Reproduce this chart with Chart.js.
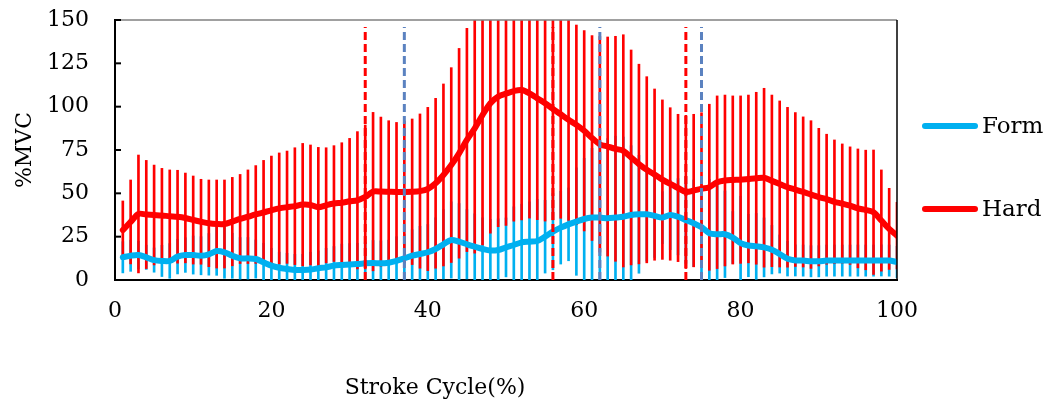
<!DOCTYPE html>
<html>
<head>
<meta charset="utf-8">
<script src="https://cdn.jsdelivr.net/npm/chart.js@4.4.1/dist/chart.umd.min.js"></script>
<style>
  html, body { margin: 0; padding: 0; background: #ffffff; }
  #wrap { width: 1053px; height: 407px; position: relative; }
</style>
</head>
<body>
<div id="wrap"><canvas id="c" width="1053" height="407"></canvas></div>
<script>
// ---------------- data ----------------
const strokeCycle = Array.from({length: 100}, (_, i) => i + 1); // 1..100 %

const seriesNames = ['Form', 'Hard'];
const xTitle = 'Stroke Cycle(%)';
const yTitle = '%MVC';
const yTicks = [0, 25, 50, 75, 100, 125, 150];
const xTicks = [0, 20, 40, 60, 80, 100];

const hardMean = [
  28.8, 33.5, 38.1, 37.8, 37.5, 37.2, 36.8, 36.5, 35.8, 34.6,
  33.6, 32.7, 32.3, 32.3, 33.7, 35.2, 36.5, 37.8, 39.0, 40.2,
  41.3, 42.0, 42.6, 43.5, 43.3, 41.9, 43.1, 44.1, 44.6, 45.4,
  46.0, 47.9, 51.0, 51.0, 50.9, 50.8, 50.8, 50.9, 51.3, 52.5,
  55.8, 60.6, 66.3, 73.1, 80.8, 87.5, 95.2, 102.0, 105.8, 107.5,
  109.0, 109.6, 107.7, 104.8, 102.0, 98.7, 95.6, 92.4, 89.5, 86.1,
  81.9, 78.3, 77.0, 75.7, 74.5, 70.7, 66.9, 63.6, 60.8, 57.9,
  55.4, 53.1, 50.8, 51.6, 52.7, 53.5, 56.4, 57.4, 57.7, 57.9,
  58.3, 58.7, 59.0, 57.2, 55.4, 53.5, 52.2, 50.8, 49.3, 47.8,
  46.6, 45.1, 44.1, 42.9, 41.3, 40.4, 39.1, 34.3, 29.5, 25.6
];
const hardSD = [
  16.8, 24.2, 34.0, 31.2, 28.8, 27.2, 26.7, 26.8, 25.9, 25.4,
  24.5, 25.0, 25.4, 25.4, 25.5, 25.7, 27.0, 28.2, 30.0, 31.3,
  32.0, 32.4, 33.7, 35.3, 34.6, 34.6, 33.2, 33.4, 34.6, 36.3,
  39.6, 41.5, 45.7, 43.0, 41.0, 40.1, 40.9, 42.0, 44.5, 47.1,
  49.0, 52.5, 56.2, 60.5, 64.4, 72.0, 75.0, 75.0, 75.0, 76.0,
  75.0, 75.0, 72.0, 70.0, 68.0, 64.0, 60.0, 58.0, 57.6, 57.8,
  59.1, 62.2, 63.2, 64.9, 67.0, 62.0, 57.6, 53.7, 49.4, 46.0,
  44.0, 42.5, 44.2, 44.0, 43.8, 47.9, 49.8, 49.3, 48.5, 48.3,
  48.4, 49.6, 51.6, 49.5, 47.9, 46.1, 44.4, 43.3, 42.6, 39.7,
  37.5, 35.7, 34.4, 33.9, 34.3, 34.5, 35.9, 29.2, 23.4, 19.2
];
const formMean = [
  13.1, 14.0, 14.4, 13.1, 11.5, 11.0, 11.0, 13.5, 14.4, 14.4,
  14.0, 14.8, 16.7, 16.0, 14.0, 12.5, 12.5, 12.1, 10.2, 8.3,
  7.1, 6.4, 5.8, 5.8, 6.0, 6.8, 7.3, 8.3, 8.7, 9.0,
  9.2, 9.6, 9.8, 9.6, 10.0, 11.0, 12.5, 14.0, 15.0, 16.0,
  17.9, 20.6, 23.1, 22.1, 20.6, 19.2, 17.9, 17.0, 17.3, 18.8,
  20.2, 21.7, 22.1, 22.5, 25.0, 27.9, 30.2, 32.1, 33.7, 35.2,
  36.0, 36.0, 35.6, 36.0, 36.5, 37.5, 37.9, 37.9, 37.0, 36.0,
  37.5, 36.5, 34.6, 32.7, 30.5, 27.0, 26.4, 26.4, 24.5, 21.3,
  19.9, 19.4, 18.8, 17.5, 15.0, 12.3, 11.3, 11.2, 10.8, 10.8,
  11.2, 11.2, 11.2, 11.2, 11.2, 11.2, 11.2, 11.3, 11.2, 10.4
];
const formSD = [
  9, 9, 8, 7, 7, 9, 10, 10, 10, 11,
  11, 12, 14, 15, 13, 12, 12, 11, 11, 10,
  9, 9, 9, 9, 10, 10, 11, 11, 12, 12,
  12, 12, 13, 13, 13, 14, 14, 15, 16, 16,
  18, 20, 22, 22, 20, 19, 18, 18, 18, 17,
  22, 22, 23, 24, 21, 22, 21, 21, 31, 35,
  40, 42, 46, 47, 46, 40, 34, 27, 24, 15,
  20, 22, 25, 25, 28, 31, 30, 25, 15, 27,
  18, 19, 17, 14, 11, 10, 9, 9, 9, 9,
  9, 9, 9, 9, 9, 9, 9, 9, 9, 9
];

// phase markers (vertical dashed lines)
const hardPhaseX = [32, 56, 73];
const formPhaseX = [37, 62, 75];
const markerTop = 146;

// ---------------- styling ----------------
const FORM_COLOR = '#00B0F0';
const HARD_COLOR = '#FF0000';
const FORM_MARK_COLOR = '#5B82C0';
const FONT = '"DejaVu Serif", "Liberation Serif", serif';

const lineXY = (xs, ys) => xs.map((x, i) => ({x: x, y: ys[i]}));
const barXY = (xs, m, s) => xs.map((x, i) => ({x: x, y: [m[i] - s[i], m[i] + s[i]]}));

const datasets = [];
hardPhaseX.forEach(x => datasets.push({
  type: 'line', label: 'hardPhase', data: [{x: x, y: 0}, {x: x, y: markerTop}],
  borderColor: HARD_COLOR, borderWidth: 3, borderDash: [8, 4], pointRadius: 0,
  order: 0, clip: false
}));
formPhaseX.forEach(x => datasets.push({
  type: 'line', label: 'formPhase', data: [{x: x, y: 0}, {x: x, y: markerTop}],
  borderColor: FORM_MARK_COLOR, borderWidth: 3, borderDash: [8, 4], pointRadius: 0,
  order: 0, clip: false
}));
datasets.push({
  type: 'line', label: seriesNames[1], data: lineXY(strokeCycle, hardMean),
  borderColor: HARD_COLOR, borderWidth: 6, pointRadius: 0, tension: 0.3,
  borderCapStyle: 'round', borderJoinStyle: 'round', order: 1
});
datasets.push({
  type: 'line', label: seriesNames[0], data: lineXY(strokeCycle, formMean),
  borderColor: FORM_COLOR, borderWidth: 6, pointRadius: 0, tension: 0.3,
  borderCapStyle: 'round', borderJoinStyle: 'round', order: 2
});
datasets.push({
  type: 'bar', label: 'Hard SD', data: barXY(strokeCycle, hardMean, hardSD),
  backgroundColor: HARD_COLOR, borderWidth: 0, barThickness: 2,
  grouped: false, order: 3
});
datasets.push({
  type: 'bar', label: 'Form SD', data: barXY(strokeCycle, formMean, formSD),
  backgroundColor: FORM_COLOR, borderWidth: 0, barThickness: 2,
  grouped: false, order: 4
});

// frame, inward y ticks, legend and x title
const decor = {
  id: 'decor',
  afterDatasetsDraw(chart) {
    const {ctx, chartArea: a, scales} = chart;
    ctx.save();
    ctx.strokeStyle = '#808080';
    ctx.lineWidth = 1.5;
    ctx.beginPath(); ctx.moveTo(a.left, a.top); ctx.lineTo(a.right, a.top); ctx.stroke();
    ctx.strokeStyle = '#000000';
    ctx.beginPath(); ctx.moveTo(a.right, a.top); ctx.lineTo(a.right, a.bottom); ctx.stroke();
    ctx.lineWidth = 2;
    yTicks.forEach(v => {
      const py = scales.y.getPixelForValue(v);
      ctx.beginPath(); ctx.moveTo(a.left, py); ctx.lineTo(a.left + 6, py); ctx.stroke();
    });
    ctx.restore();
  },
  afterDraw(chart) {
    const {ctx} = chart;
    ctx.save();
    const items = [[seriesNames[0], FORM_COLOR, 126], [seriesNames[1], HARD_COLOR, 209]];
    items.forEach(([t, c, y]) => {
      ctx.strokeStyle = c; ctx.lineWidth = 6; ctx.lineCap = 'round';
      ctx.beginPath(); ctx.moveTo(925, y); ctx.lineTo(975, y); ctx.stroke();
      ctx.fillStyle = '#000'; ctx.font = '23px ' + FONT;
      ctx.textBaseline = 'middle'; ctx.textAlign = 'left';
      ctx.fillText(t, 982, y + 1);
    });
    ctx.font = '22px ' + FONT;
    ctx.textAlign = 'center'; ctx.textBaseline = 'middle';
    ctx.fillText(xTitle, 435, 388);
    ctx.restore();
  }
};

new Chart(document.getElementById('c'), {
  type: 'line',
  data: {datasets},
  options: {
    responsive: false,
    animation: false,
    devicePixelRatio: 1,
    layout: {padding: {left: 12, right: 156, top: 20, bottom: 0}},
    plugins: {legend: {display: false}, tooltip: {enabled: false}},
    scales: {
      x: {
        type: 'linear', min: 0, max: 100, offset: false,
        afterFit: s => { s.height = 127; s.paddingLeft = 0; s.paddingRight = 0; },
        afterBuildTicks: s => { s.ticks = xTicks.map(v => ({value: v})); },
        ticks: {font: {family: FONT, size: 22}, color: '#000', padding: 18, maxRotation: 0},
        grid: {display: false, drawTicks: false},
        border: {display: true, color: '#000', width: 2}
      },
      y: {
        min: 0, max: 150,
        afterFit: s => { s.width = 103; s.paddingTop = 0; s.paddingBottom = 0; },
        afterBuildTicks: s => { s.ticks = yTicks.map(v => ({value: v})); },
        ticks: {font: {family: FONT, size: 22}, color: '#000', padding: 26},
        grid: {display: false, drawTicks: false},
        border: {display: true, color: '#000', width: 2},
        title: {display: true, text: yTitle, font: {family: FONT, size: 22}, color: '#000', padding: 0}
      }
    }
  },
  plugins: [decor]
});
</script>
</body>
</html>
